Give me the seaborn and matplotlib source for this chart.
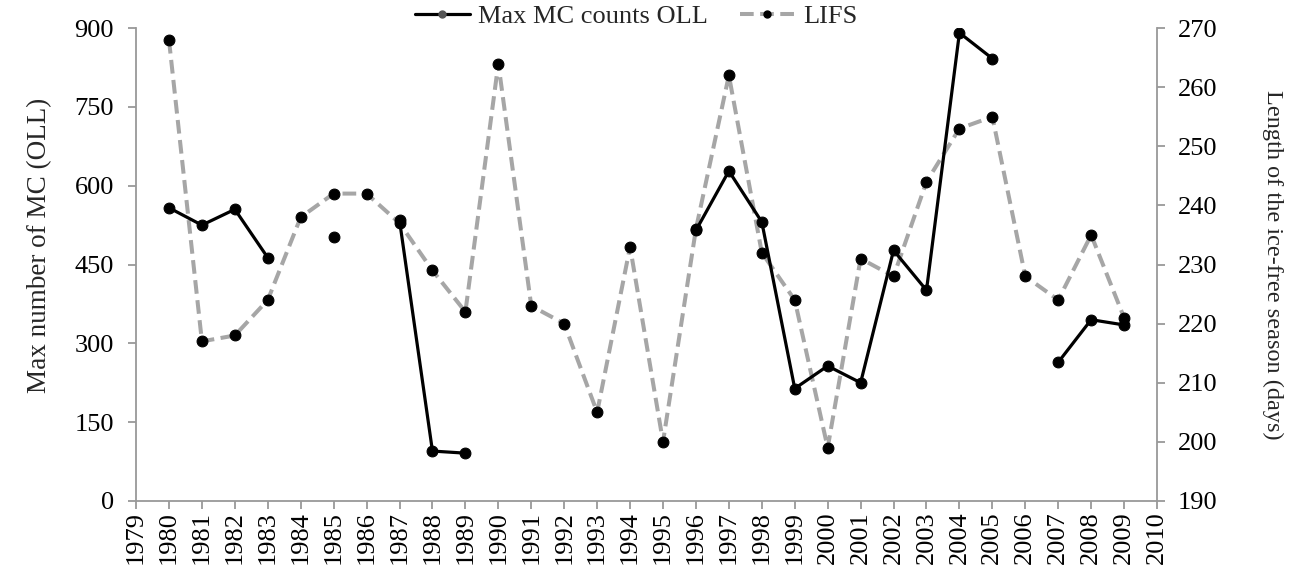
import numpy as np
import pandas as pd
import matplotlib
matplotlib.use("Agg")
import matplotlib.pyplot as plt
from matplotlib.lines import Line2D
import seaborn as sns

# values
years = list(range(1980, 2010))
mc_counts = [558, 525, 555, 463, np.nan, 503, np.nan, 534, 95, 91,
             np.nan, np.nan, np.nan, np.nan, np.nan, np.nan, 515, 628, 531, 214,
             257, 225, 477, 401, 891, 842, np.nan, 264, 345, 335]
lifs_days = [268, 217, 218, 224, 238, 242, 242, 237, 229, 222,
             264, 223, 220, 205, 233, 200, 236, 262, 232, 224,
             199, 231, 228, 244, 253, 255, 228, 224, 235, 221]
year_ticks = list(range(1979, 2011))
left_ticks = [0, 150, 300, 450, 600, 750, 900]
right_ticks = [190, 200, 210, 220, 230, 240, 250, 260, 270]

df = pd.DataFrame({"year": years, "mc": mc_counts, "lifs": lifs_days})
# break the MC line where data are missing
df["run"] = df["mc"].isna().cumsum()
mc = df.dropna(subset=["mc"])

sns.set_style("ticks")
plt.rcParams["font.family"] = ["Liberation Serif", "DejaVu Serif"]

fig = plt.figure(figsize=(12.98, 5.73), dpi=100)
ax = fig.add_axes([0.1048, 0.1257, 0.7866, 0.8253])
ax2 = ax.twinx()

gray = "#a6a6a6"
dash = (0, (3.4, 1.6))
sns.lineplot(data=df, x="year", y="lifs", ax=ax2, color=gray, lw=2.9,
             linestyle=dash, marker="o", markersize=7.8,
             markerfacecolor="black", markeredgecolor="black")
sns.lineplot(data=mc, x="year", y="mc", units="run", estimator=None, ax=ax,
             color="black", lw=2.3, marker="o", markersize=7.8,
             markerfacecolor="black", markeredgecolor="black")

ax.set_zorder(ax2.get_zorder() + 1)
ax.patch.set_visible(False)

ax.set_xlim(1979, 2010)
ax.set_ylim(0, 900)
ax2.set_ylim(190, 270)
ax.set_xticks(year_ticks)
ax.set_xticklabels([str(y) for y in year_ticks], rotation=90)
ax.set_yticks(left_ticks)
ax2.set_yticks(right_ticks)

ax.set_xlabel("")
ax.set_ylabel("Max number of MC (OLL)", fontsize=19.5)
ax.yaxis.set_label_coords(-0.082, 0.54)
ax2.set_xlabel("")
ax2.set_ylabel("Length of the ice-free season (days)", fontsize=17.5,
               rotation=270, va="bottom", labelpad=32)

spine_col = "#999999"
for a in (ax, ax2):
    a.spines["top"].set_visible(False)
    for s in ("left", "right", "bottom"):
        a.spines[s].set_color(spine_col)
        a.spines[s].set_linewidth(1.3)
    a.tick_params(colors=spine_col, labelcolor="black", labelsize=19,
                  length=6, width=1.3)
ax.tick_params(axis="y", pad=10)
ax.tick_params(axis="x", pad=1.5)
ax2.tick_params(axis="y", pad=9)
ax.spines["right"].set_visible(False)
ax2.spines["left"].set_visible(False)
ax2.spines["bottom"].set_visible(False)

handles = [
    Line2D([], [], color="black", lw=2.3, marker="o", markersize=5,
           markerfacecolor="#555555", markeredgecolor="#555555"),
    Line2D([], [], color=gray, lw=2.9, linestyle=dash, marker="o",
           markersize=5, markerfacecolor="black", markeredgecolor="black"),
]
fig.legend(handles, ["Max MC counts OLL", "LIFS"], loc="center",
           bbox_to_anchor=(0.49, 0.972), ncol=2, frameon=False, fontsize=19,
           handlelength=2.1, columnspacing=1.2, handletextpad=0.3,
           borderpad=0.0)
if ax.get_legend():
    ax.get_legend().remove()
if ax2.get_legend():
    ax2.get_legend().remove()

fig.savefig("out.png", dpi=100)
